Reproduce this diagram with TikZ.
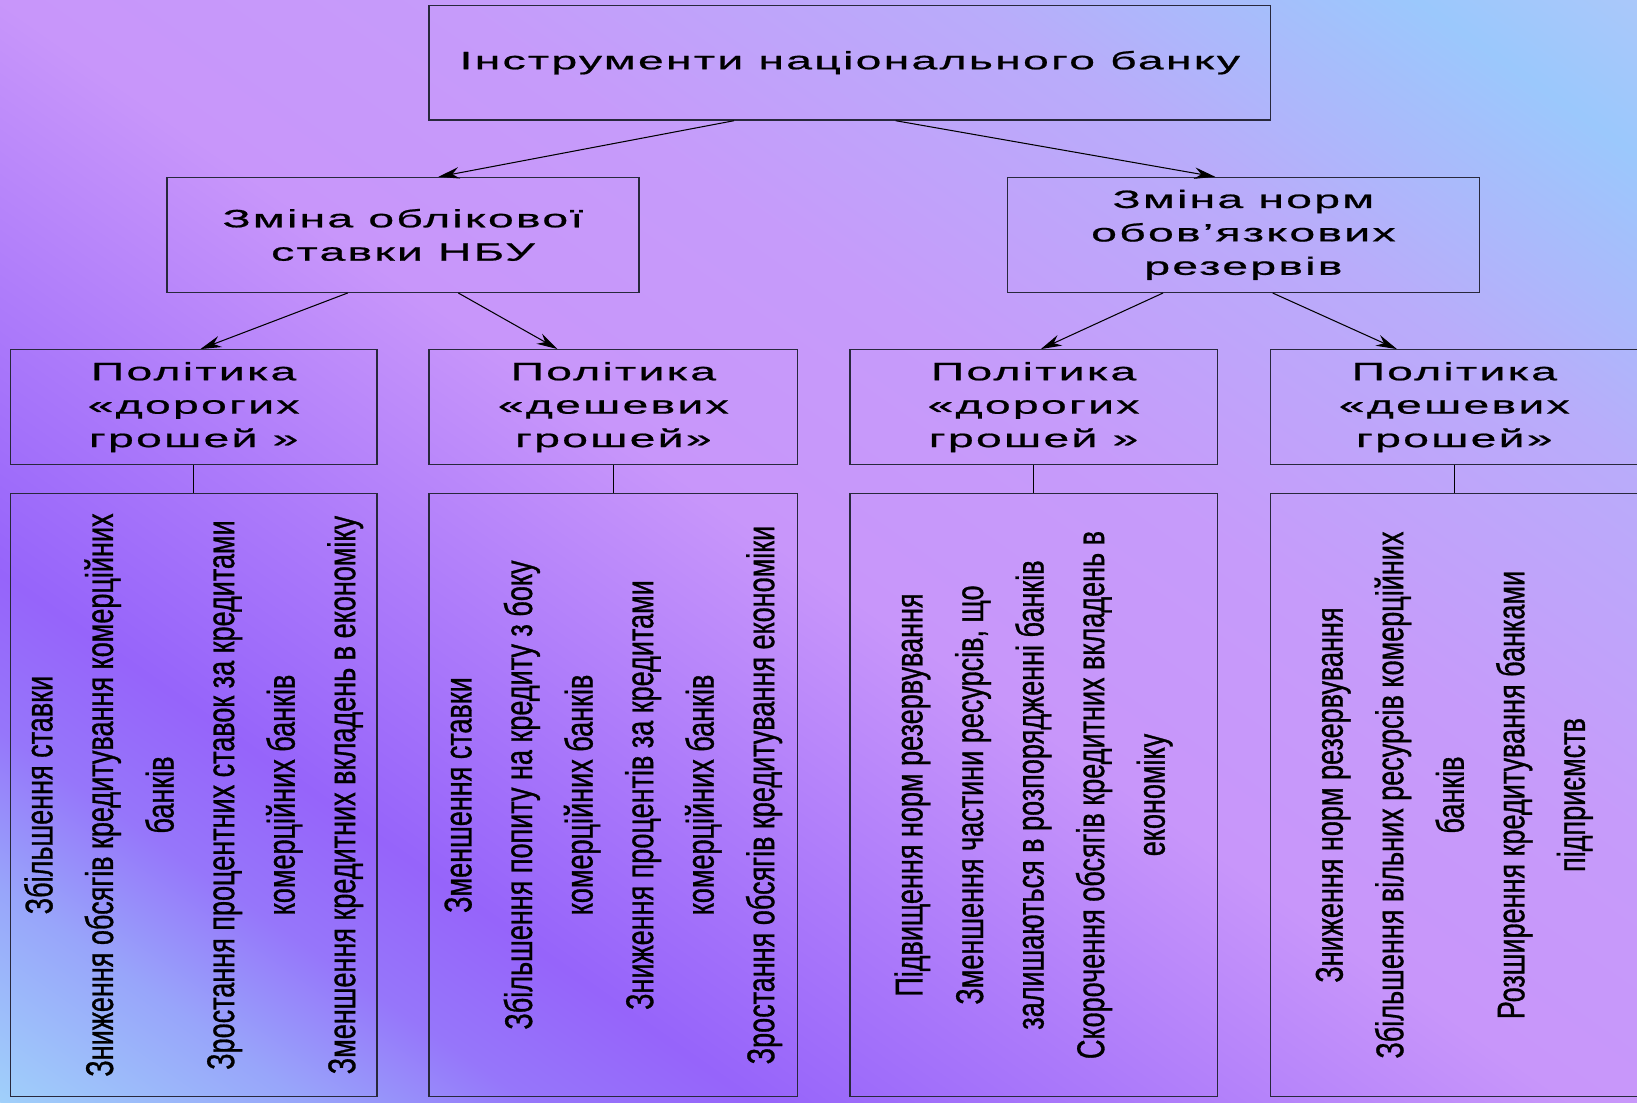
\documentclass[tikz,border=0pt]{standalone}
\usepackage{fontspec}
\setmainfont{Liberation Sans}
\newfontfamily\headfont[FakeStretch=1.85, LetterSpace=9, FakeBold=0.8]{Liberation Sans}
\newfontfamily\listfont[FakeStretch=0.7, FakeBold=0.8]{Liberation Sans}
\usetikzlibrary{arrows.meta}
\definecolor{bgA}{RGB}{170,200,250}
\definecolor{bgB}{RGB}{155,200,252}
\definecolor{bgC}{RGB}{185,172,250}
\definecolor{bgD}{RGB}{198,155,250}
\definecolor{bgE}{RGB}{200,150,250}
\definecolor{bgF}{RGB}{172,122,250}
\definecolor{bgG}{RGB}{150,100,250}
\definecolor{bgH}{RGB}{150,118,250}
\definecolor{bgI}{RGB}{152,165,250}
\definecolor{bgJ}{RGB}{160,208,250}
\definecolor{bordercol}{RGB}{40,40,60}
\pgfdeclarehorizontalshading{bgshade}{100bp}{color(0bp)=(bgA); color(25bp)=(bgA); color(28.43bp)=(bgB); color(35.39bp)=(bgC); color(43.52bp)=(bgD); color(50.48bp)=(bgE); color(57.45bp)=(bgF); color(63.25bp)=(bgG); color(66.73bp)=(bgH); color(70.22bp)=(bgI); color(75bp)=(bgJ); color(100bp)=(bgJ)}
\tikzset{
  box/.style={draw=bordercol, line width=1.3pt, inner sep=0pt, align=center, text=black},
  headtxt/.style={font=\headfont\fontsize{24}{32}\selectfont},
  listtxt/.style={font=\listfont\fontsize{37}{58}\selectfont},
  conn/.style={draw=black, line width=1pt, -{Stealth[length=20pt,width=11pt]}},
  vline/.style={draw=black, line width=1pt}
}
\begin{document}
\begin{tikzpicture}[x=1pt,y=-1pt]
\useasboundingbox (0,0) rectangle (1568,1056);
\begin{scope}
\clip (0,0) rectangle (1568,1056);
\begin{scope}[transform canvas={rotate around={235:(784,528)}}]
\shade[shading=bgshade] (-98.2,-472) rectangle (1666.2,1528);
\end{scope}
\end{scope}

\node[box, headtxt, minimum width=806pt, minimum height=110pt] (top) at (814,60) {Інструменти національного банку};

\node[box, headtxt, minimum width=452pt, minimum height=110pt] (l2a) at (386,225) {Зміна облікової\\ставки НБУ};
\node[box, headtxt, minimum width=452pt, minimum height=110pt] (l2b) at (1191,225) {Зміна норм\\обов’язкових\\резервів};

\node[box, headtxt, minimum width=351pt, minimum height=110pt] (l3a) at (185.5,390) {Політика\\«дорогих\\грошей »};
\node[box, headtxt, minimum width=353pt, minimum height=110pt] (l3b) at (587.5,390) {Політика\\«дешевих\\грошей»};
\node[box, headtxt, minimum width=352pt, minimum height=110pt] (l3c) at (990,390) {Політика\\«дорогих\\грошей »};
\node[box, headtxt, minimum width=352pt, minimum height=110pt] (l3d) at (1393,390) {Політика\\«дешевих\\грошей»};

\node[box, listtxt, rotate=90, minimum width=577pt, minimum height=351pt] (l4a) at (185.5,761.5) {Збільшення ставки\\Зниження обсягів кредитування комерційних\\банків\\Зростання процентних ставок за кредитами\\комерційних банків\\Зменшення кредитних вкладень в економіку};
\node[box, listtxt, rotate=90, minimum width=577pt, minimum height=353pt] (l4b) at (587.5,761.5) {Зменшення ставки\\Збільшення попиту на кредиту з боку\\комерційних банків\\Зниження процентів за кредитами\\комерційних банків\\Зростання обсягів кредитування економіки};
\node[box, listtxt, rotate=90, minimum width=577pt, minimum height=352pt] (l4c) at (990,761.5) {Підвищення норм резервування\\Зменшення частини ресурсів, що\\залишаються в розпорядженні банків\\Скорочення обсягів кредитних вкладень в\\економіку};
\node[box, listtxt, rotate=90, minimum width=577pt, minimum height=352pt] (l4d) at (1393,761.5) {Зниження норм резервування\\Збільшення вільних ресурсів комерційних\\банків\\Розширення кредитування банками\\підприємств};

\draw[conn] ([xshift=-111pt]top.south) -- ([xshift=34pt]l2a.north);
\draw[conn] ([xshift=44pt]top.south) -- ([xshift=-27pt]l2b.north);
\draw[conn] ([xshift=-53pt]l2a.south) -- ([xshift=6.5pt]l3a.north);
\draw[conn] ([xshift=53pt]l2a.south) -- ([xshift=-53.5pt]l3b.north);
\draw[conn] ([xshift=-77pt]l2b.south) -- ([xshift=7pt]l3c.north);
\draw[conn] ([xshift=28pt]l2b.south) -- ([xshift=-55pt]l3d.north);

\draw[vline] (l3a.south) -- (l4a.east);
\draw[vline] (l3b.south) -- (l4b.east);
\draw[vline] (l3c.south) -- (l4c.east);
\draw[vline] (l3d.south) -- (l4d.east);
\end{tikzpicture}
\end{document}
